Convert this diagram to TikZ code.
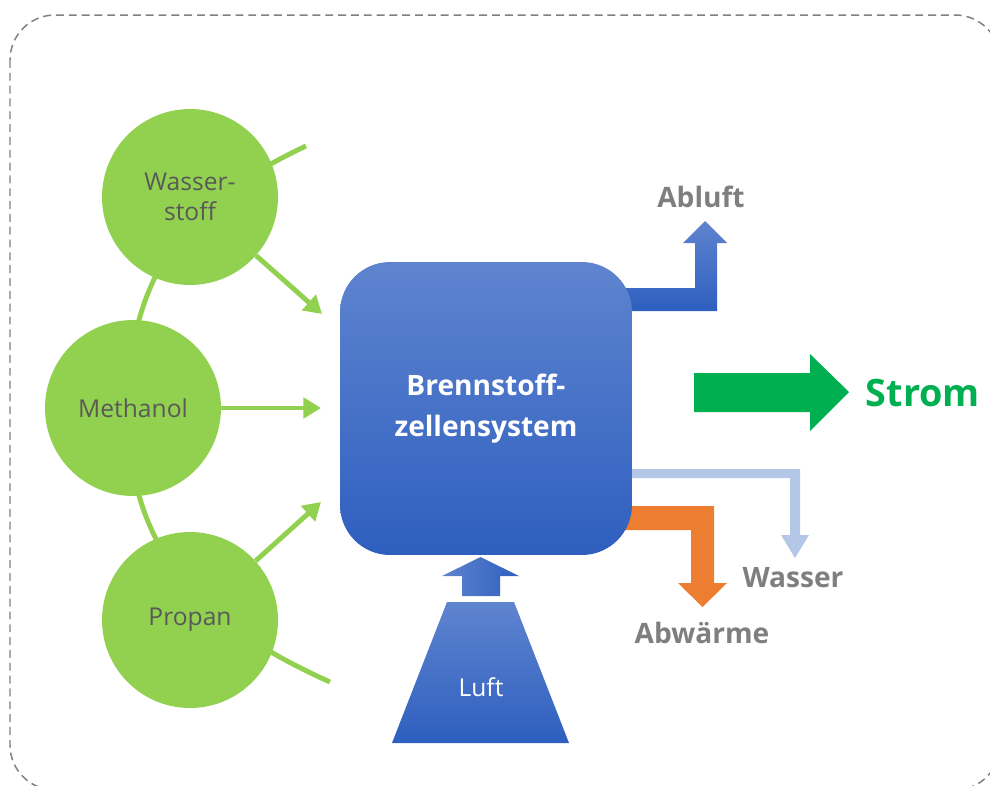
\documentclass[tikz,border=0pt]{standalone}
\usepackage{fontspec}
\setmainfont{Open Sans}
\usetikzlibrary{arrows.meta}
\definecolor{lgreen}{HTML}{92D050}
\definecolor{txtdark}{HTML}{595959}
\definecolor{txtgray}{HTML}{7F7F7F}
\definecolor{stromgreen}{HTML}{00B050}
\definecolor{btop}{HTML}{5F84CF}
\definecolor{bbot}{HTML}{2E5FBF}
\definecolor{wblue}{HTML}{B4C7E7}
\definecolor{orng}{HTML}{ED7D31}
\definecolor{bordergray}{HTML}{808080}
\begin{document}
\begin{tikzpicture}[x=0.02cm,y=-0.02cm,
  fuel/.style={circle, fill=lgreen, minimum size=3.52cm, inner sep=0pt, text=txtdark,
    font=\fontsize{14}{17}\selectfont, align=center},
  garrow/.style={draw=lgreen, line width=2.8pt, -{Triangle[length=10pt,width=11.5pt]}},
  outlabel/.style={text=txtgray, font=\bfseries\fontsize{16}{19}\selectfont, anchor=base, inner sep=0pt},
  bluegrad/.style={top color=btop, bottom color=bbot, draw=none},
]
\useasboundingbox (0,0) rectangle (990,785);
% dashed frame
\draw[bordergray, line width=0.85pt, dash pattern=on 4.5pt off 2.8pt, rounded corners=0.9cm]
  (10,15) rectangle (1000,790);

% green arc behind circles
\draw[lgreen, line width=2.8pt]
  (306,146) .. controls (200,196) and (128,262) .. (128,410)
            .. controls (128,558) and (210,628) .. (330,682);

% arrow targets
\coordinate (wt) at (322,314);
\coordinate (mt) at (321,408);
\coordinate (pt) at (321,502);

% fuel circles
\node[fuel] (w) at (190,197) {Wasser-\\stoff};
\node[fuel] (m) at (133,408) {Methanol};
\node[fuel] (p) at (190,620) {Propan};

\draw[garrow] (w) -- (wt);
\draw[garrow] (m) -- (mt);
\draw[garrow] (p) -- (pt);

% Abluft block arrow
\path[bluegrad] (600,288) -- (695,288) -- (695,243) -- (683,243) -- (705,221) -- (727,243)
  -- (717,243) -- (717,311) -- (600,311) -- cycle;
% Wasser arrow
\fill[wblue] (600,469) -- (800,469) -- (800,535) -- (809,535) -- (795,558) -- (781,535)
  -- (790,535) -- (790,478) -- (600,478) -- cycle;
% Abwaerme arrow
\fill[orng] (600,506) -- (714,506) -- (714,583) -- (727,583) -- (702.5,607) -- (678,583)
  -- (691,583) -- (691,530) -- (600,530) -- cycle;
% Strom arrow
\fill[stromgreen] (694,373) -- (810,373) -- (810,354) -- (849,392) -- (810,431) -- (810,412)
  -- (694,412) -- cycle;

% main box
\node[bluegrad, rounded corners=1cm, minimum width=5.84cm, minimum height=5.86cm,
  text=white, font=\bfseries\fontsize{16}{23}\selectfont, align=center] (fc) at (486,408.5)
  {Brennstoff-\\zellensystem};

% Luft
\path[bluegrad] (447,602) -- (514,602) -- (569,743) -- (392,743) -- cycle;
\path[left color=btop, right color=bbot] (462,596) -- (500,596) -- (500,576) -- (519,576)
  -- (480.5,557) -- (442,576) -- (462,576) -- cycle;
\node[text=white, font=\fontsize{14}{17}\selectfont, anchor=base, inner sep=0pt] (luft) at (481,696) {Luft};

% labels
\node[outlabel] (abluft) at (701,207) {Abluft};
\node[outlabel] (wasser) at (793,587) {Wasser};
\node[outlabel] (abw) at (702,643) {Abwärme};
\node[outlabel, text=stromgreen, font=\bfseries\fontsize{21.5}{25}\selectfont] (strom) at (923,406) {Strom};
\end{tikzpicture}
\end{document}
